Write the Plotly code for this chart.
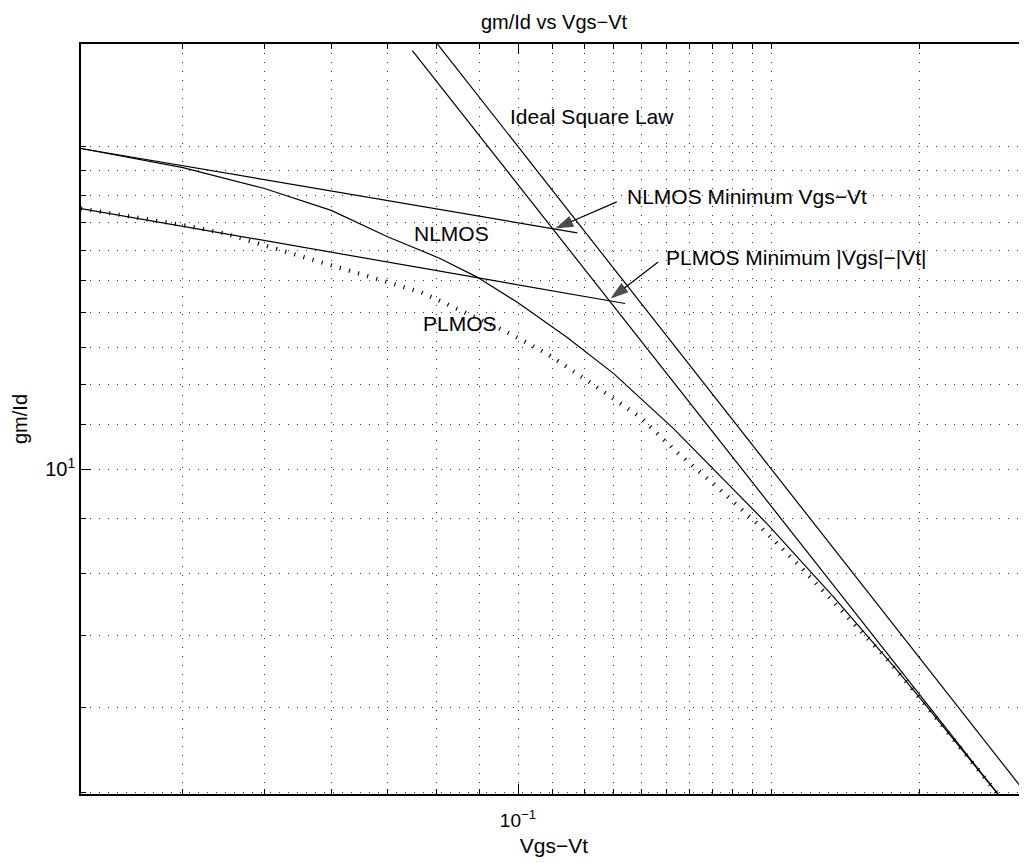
import plotly.graph_objects as go
import math

# ---------------- data ----------------
# NLMOS gm/Id curve
nlmos_x = [0.03027, 0.040, 0.050, 0.060, 0.070, 0.0808, 0.0893, 0.0996, 0.1142,
           0.1298, 0.1529, 0.1974, 0.2368, 0.2817, 0.3058, 0.3737]
nlmos_y = [19.92, 19.12, 18.28, 17.44, 16.48, 15.73, 15.12, 14.33, 13.29,
           12.29, 10.92, 8.906, 7.609, 6.50, 6.01, 4.95]

# PLMOS gm/Id curve (dotted)
plmos_x = [0.03027, 0.040, 0.0448, 0.050, 0.060, 0.0707, 0.0765, 0.0853, 0.0970,
           0.1081, 0.1207, 0.1396, 0.1543, 0.1706, 0.1921, 0.2163, 0.2412,
           0.2741, 0.3058, 0.3737]
plmos_y = [17.51, 16.90, 16.60, 16.18, 15.50, 14.90, 14.64, 14.08, 13.43,
           12.83, 12.11, 11.19, 10.38, 9.70, 8.907, 8.117, 7.42,
           6.66, 6.01, 4.95]

# "minimum" reference lines
nlmin_x = [0.03027, 0.1176]
nlmin_y = [19.92, 16.62]
plmin_x = [0.03027, 0.1340]
plmin_y = [17.51, 14.28]

# ideal square law and companion straight line
ideal_x = [0.080, 0.400]
ideal_y = [25.0, 5.0]
lineb_x = [0.0749, 0.3737]
lineb_y = [24.58, 4.95]

# text labels
label_text = ["Ideal Square Law", "NLMOS Minimum Vgs\u2212Vt",
              "PLMOS Minimum |Vgs|\u2212|Vt|", "NLMOS", "PLMOS"]
label_x = [0.0972, 0.1340, 0.1492, 0.0748, 0.0768]
label_y = [21.32, 17.95, 15.77, 16.60, 13.67]

# arrows (tail -> tip)
arrow_tail_x = [0.1310, 0.1467]
arrow_tail_y = [17.76, 15.61]
arrow_tip_x = [0.1107, 0.1288]
arrow_tip_y = [16.77, 14.43]

# axes
x_range = [0.03027, 0.4022]
y_range = [4.98, 24.93]
x_major = [0.1]
x_major_text = ["10<sup>\u22121</sup>"]
y_major = [10]
y_major_text = ["10<sup>1</sup>"]
x_minor = [0.03, 0.04, 0.05, 0.06, 0.07, 0.08, 0.09, 0.11, 0.12, 0.13, 0.14,
           0.15, 0.16, 0.17, 0.18, 0.19, 0.2, 0.3, 0.4]
y_minor = [5, 6, 7, 8, 9, 11, 12, 13, 14, 15, 16, 17, 18, 19, 20]

FONT = "Liberation Sans, Arial, Helvetica, sans-serif"
BLACK = "#000000"
GRID = "#303030"

# the page body adds an 8px offset; the figure is sized to fill the rest
W, H = 1019, 855

fig = go.Figure()

solid = dict(color=BLACK, width=1.2)
fig.add_trace(go.Scatter(x=nlmin_x, y=nlmin_y, mode="lines", line=solid,
                         name="NLMOS Minimum Vgs-Vt"))
fig.add_trace(go.Scatter(x=plmin_x, y=plmin_y, mode="lines", line=solid,
                         name="PLMOS Minimum |Vgs|-|Vt|"))
fig.add_trace(go.Scatter(x=nlmos_x, y=nlmos_y, mode="lines", line=solid,
                         name="NLMOS"))
fig.add_trace(go.Scatter(x=plmos_x, y=plmos_y, mode="lines",
                         line=dict(color=BLACK, width=4.2, dash="1.1px,8.4px"),
                         name="PLMOS"))
fig.add_trace(go.Scatter(x=lineb_x, y=lineb_y, mode="lines", line=solid,
                         name="Square law (fit)"))
fig.add_trace(go.Scatter(x=ideal_x, y=ideal_y, mode="lines", line=solid,
                         name="Ideal Square Law"))

# arrows
for tx, ty, hx, hy in zip(arrow_tail_x, arrow_tail_y, arrow_tip_x, arrow_tip_y):
    fig.add_trace(go.Scatter(
        x=[tx, hx], y=[ty, hy], mode="lines+markers",
        line=dict(color=BLACK, width=1.2),
        marker=dict(symbol="arrow", size=[0, 19], angleref="previous",
                    color=BLACK, line=dict(width=0)),
        showlegend=False, hoverinfo="skip"))

for t, x, y in zip(label_text, label_x, label_y):
    fig.add_annotation(x=math.log10(x), y=math.log10(y), text=t,
                       showarrow=False, xanchor="left", yanchor="middle",
                       font=dict(family=FONT, size=21, color=BLACK))

fig.update_layout(
    width=W, height=H,
    margin=dict(l=73, r=0, t=36, b=69),
    paper_bgcolor="white", plot_bgcolor="white",
    showlegend=False,
    font=dict(family=FONT, size=20, color=BLACK),
    title=dict(text="gm/Id vs Vgs\u2212Vt", x=0.5, xref="paper", xanchor="center",
               y=1 - 13.7 / H, yref="container", yanchor="middle",
               font=dict(family=FONT, size=20, color=BLACK)),
)

fig.update_xaxes(
    type="log", range=[math.log10(x_range[0]), math.log10(x_range[1])],
    showline=True, linecolor=BLACK, linewidth=1.5, mirror="allticks",
    tickmode="array", tickvals=x_major, ticktext=x_major_text,
    ticks="inside", ticklen=10, tickwidth=1, tickcolor=BLACK,
    tickfont=dict(family=FONT, size=19, color=BLACK),
    ticklabelstandoff=8,
    showgrid=True, gridcolor=GRID, gridwidth=1, griddash="1px,8px",
    minor=dict(tickmode="array", tickvals=x_minor, ticks="inside", ticklen=5,
               tickcolor=BLACK, showgrid=True, gridcolor=GRID, gridwidth=1,
               griddash="1px,8px"),
    zeroline=False,
    title=dict(text="Vgs\u2212Vt", standoff=9,
               font=dict(family=FONT, size=21, color=BLACK)),
)
fig.update_yaxes(
    type="log", range=[math.log10(y_range[0]), math.log10(y_range[1])],
    showline=True, linecolor=BLACK, linewidth=1.5, mirror=False,
    tickmode="array", tickvals=y_major, ticktext=y_major_text,
    ticks="inside", ticklen=10, tickwidth=1, tickcolor=BLACK,
    tickfont=dict(family=FONT, size=20, color=BLACK),
    showgrid=True, gridcolor=GRID, gridwidth=1, griddash="1px,8px",
    minor=dict(tickmode="array", tickvals=y_minor, ticks="inside", ticklen=5,
               tickcolor=BLACK, showgrid=True, gridcolor=GRID, gridwidth=1,
               griddash="1px,8px"),
    zeroline=False,
    title=dict(text="gm/Id", standoff=12,
               font=dict(family=FONT, size=20, color=BLACK)),
)

fig.write_html("out.html")
